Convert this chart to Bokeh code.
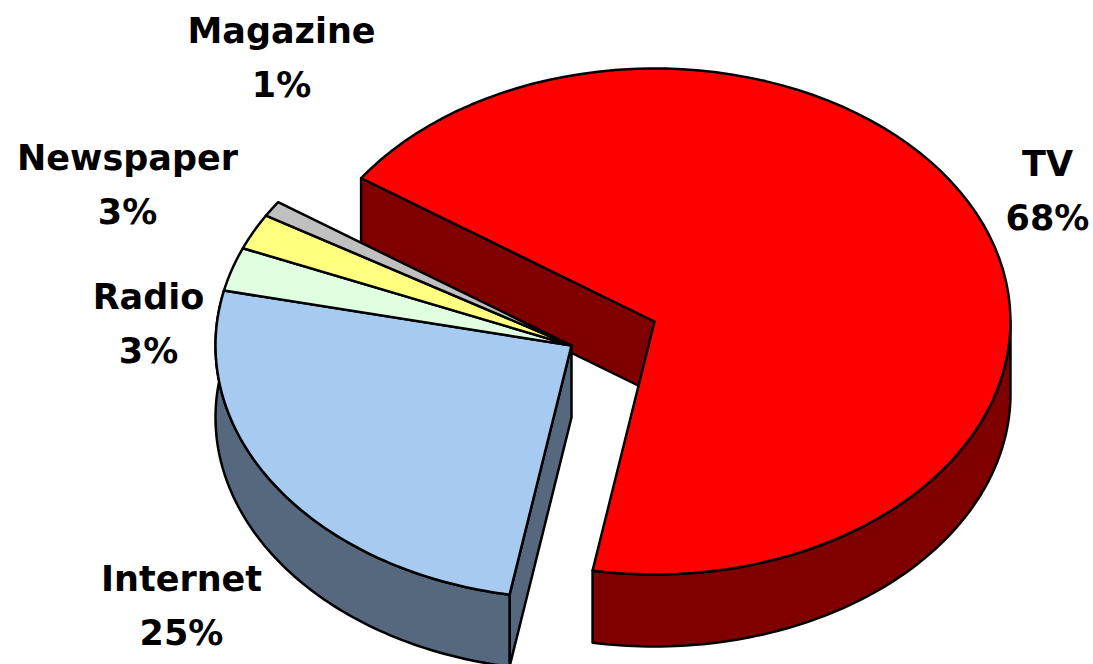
from math import cos, sin, radians
from bokeh.plotting import figure
from bokeh.models import Range1d
from bokeh.embed import file_html
from bokeh.resources import INLINE
from bokeh.core.properties import value

categories = ["TV", "Internet", "Radio", "Newspaper", "Magazine"]
shares = [68.2, 25.7, 2.8, 2.3, 1.0]
share_labels = ["68%", "25%", "3%", "3%", "1%"]
colors = ["#ff0000", "#a6caf0", "#e0ffe0", "#ffff80", "#c0c0c0"]
wall_colors = ["#800000", "#56687e"]
label_x = [1047, 181, 148, 127, 281]
label_y = [190, 605, 323, 184, 57]

START = 145.5
A, B, DEPTH = 356, 253, 72
CENTERS = [(654, 321), (571, 345), (571, 345), (571, 345), (571, 345)]
FONT = value("DejaVu Sans")

p = figure(width=1093, height=664, x_range=Range1d(0, 1093), y_range=Range1d(664, 0),
           toolbar_location=None, output_backend="svg", min_border=0, outline_line_color=None,
           background_fill_color="white", border_fill_color="white")
p.axis.visible = False
p.grid.visible = False


def pt(c, t, dz=0):
    return c[0] + A * cos(radians(t)), c[1] - B * sin(radians(t)) + dz


def arc(c, t0, t1, dz=0, n=90):
    return [pt(c, t0 + (t1 - t0) * i / n, dz) for i in range(n + 1)]


def draw(points, fill):
    p.patch([q[0] for q in points], [q[1] for q in points], fill_color=fill,
            line_color="black", line_width=2.5, line_join="round")


spans = []
t = START
for s in shares:
    spans.append((t, t - s * 3.6))
    t -= s * 3.6

# side walls first, painted back to front
tv_c = CENTERS[0]
t0, t1 = spans[0]
draw([tv_c, pt(tv_c, t0), pt(tv_c, t0, DEPTH), (tv_c[0], tv_c[1] + DEPTH)], wall_colors[0])
draw(arc(tv_c, t1, 0) + arc(tv_c, 0, t1, DEPTH), wall_colors[0])
in_c = CENTERS[1]
t0, t1 = spans[1]
draw([in_c, pt(in_c, t0), pt(in_c, t0, DEPTH), (in_c[0], in_c[1] + DEPTH)], wall_colors[1])
draw(arc(in_c, t0 % 360, t1 % 360) + arc(in_c, t1 % 360, t0 % 360, DEPTH), wall_colors[1])

# top faces
for c, (t0, t1), col in zip(CENTERS, spans, colors):
    draw([c] + arc(c, t0, t1), col)

for name, share, x, y in zip(categories, share_labels, label_x, label_y):
    for txt, yy in ((name, y - 27), (share, y + 27)):
        p.text([x], [yy], text=[txt], text_align="center", text_baseline="middle",
               text_font=FONT, text_font_style="bold", text_font_size="35px", text_color="black")

open("out.html", "w").write(file_html(p, INLINE))
